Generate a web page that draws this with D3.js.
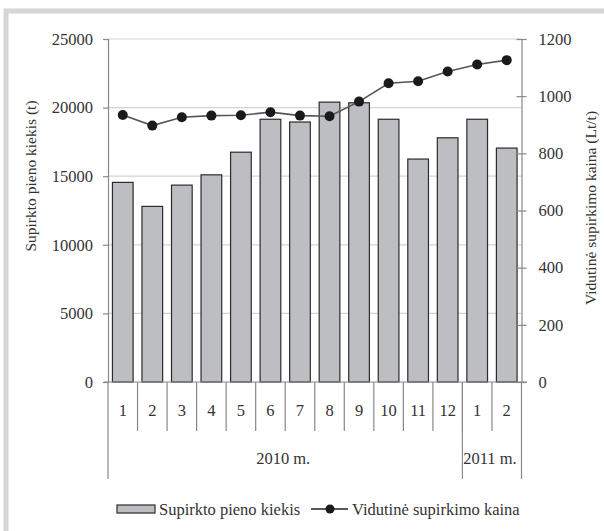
<!DOCTYPE html>
<html>
<head>
<meta charset="utf-8">
<script src="https://cdn.jsdelivr.net/npm/d3@7"></script>
<style>
  html, body { margin: 0; padding: 0; background: #fff; }
  svg { display: block; }
  text { font-family: "Liberation Serif", "Times New Roman", serif; fill: #333; }
</style>
</head>
<body>
<svg id="chart" width="604" height="531"></svg>
<script>
// ---- data ----
const months = ["1","2","3","4","5","6","7","8","9","10","11","12","1","2"];
const quantity = [14550, 12800, 14350, 15100, 16750, 19150, 18950, 20400, 20350, 19150, 16250, 17800, 19150, 17050];
const price = [934, 897, 926, 932, 933, 944, 932, 930, 981, 1045, 1052, 1086, 1111, 1126];
const years = ["2010 m.", "2011 m."];
const yearSpans = [12, 2];
const leftTicks = [0, 5000, 10000, 15000, 20000, 25000];
const rightTicks = [0, 200, 400, 600, 800, 1000, 1200];
const seriesNames = ["Supirkto pieno kiekis", "Vidutinė supirkimo kaina"];
const leftTitle = "Supirkto pieno kiekis (t)";
const rightTitle = "Vidutinė supirkimo kaina (Lt/t)";

// ---- layout ----
const svg = d3.select("#chart");
const X0 = 108, X1 = 521.5, Y0 = 382, Y1 = 39;
const FS = 16.5;
const FONT = "'Liberation Serif', 'Times New Roman', serif";

// frame (partial gray border)
svg.append("rect").attr("x", 6).attr("y", 11).attr("width", 620).attr("height", 540)
  .attr("fill", "none").attr("stroke", "#d6d6d6").attr("stroke-width", 5);

const idx = months.map((d, i) => i);
const x = d3.scaleBand().domain(idx).range([X0, X1]).paddingInner(0.3).paddingOuter(0.15);
const yL = d3.scaleLinear().domain([0, 25000]).range([Y0, Y1]);
const yR = d3.scaleLinear().domain([0, 1200]).range([Y0, Y1]);
const step = x.step();
const boundary = i => x(0) - (step - x.bandwidth()) / 2 + i * step;

// gridlines
svg.append("g").selectAll("line").data(leftTicks.filter(d => d > 0)).join("line")
  .attr("x1", X0).attr("x2", X1)
  .attr("y1", d => yL(d)).attr("y2", d => yL(d))
  .attr("stroke", "#d4d4d4").attr("stroke-width", 1.2);

// bars
svg.append("g").selectAll("rect").data(quantity).join("rect")
  .attr("x", (d, i) => x(i)).attr("width", x.bandwidth())
  .attr("y", d => yL(d)).attr("height", d => Y0 - yL(d))
  .attr("fill", "#bdbec2").attr("stroke", "#2b2b2b").attr("stroke-width", 1.2);

// left axis
const gL = svg.append("g").attr("transform", `translate(${X0},0)`)
  .call(d3.axisLeft(yL).tickValues(leftTicks).tickSize(5).tickPadding(10).tickFormat(d3.format("d")));
gL.select(".domain").attr("stroke", "#888").attr("stroke-width", 1.2);
gL.selectAll(".tick line").attr("stroke", "#888").attr("stroke-width", 1.2);
gL.selectAll("text").style("font-family", FONT).style("font-size", FS + "px").attr("fill", "#333");

// right axis
const gR = svg.append("g").attr("transform", `translate(${X1},0)`)
  .call(d3.axisRight(yR).tickValues(rightTicks).tickSize(5).tickPadding(12).tickFormat(d3.format("d")));
gR.select(".domain").attr("stroke", "#888").attr("stroke-width", 1.2);
gR.selectAll(".tick line").attr("x1", -5).attr("stroke", "#888").attr("stroke-width", 1.2);
gR.selectAll("text").style("font-family", FONT).style("font-size", FS + "px").attr("fill", "#333");

// x baseline
svg.append("line").attr("x1", X0 - 4).attr("x2", X1 + 5).attr("y1", Y0).attr("y2", Y0)
  .attr("stroke", "#888").attr("stroke-width", 1.2);

// month separators
svg.append("g").selectAll("line").data(d3.range(1, months.length)).join("line")
  .attr("x1", d => boundary(d)).attr("x2", d => boundary(d))
  .attr("y1", Y0).attr("y2", 431)
  .attr("stroke", "#888").attr("stroke-width", 1.2);

// month labels
svg.append("g").selectAll("text").data(months).join("text")
  .attr("x", (d, i) => x(i) + x.bandwidth() / 2).attr("y", 416)
  .attr("text-anchor", "middle").style("font-family", FONT).style("font-size", FS + "px").text(d => d);

// year separators and labels
const yStarts = [0];
yearSpans.forEach((s, i) => yStarts.push(yStarts[i] + s));
const yx = d => d === 0 ? X0 : (d === months.length ? X1 : boundary(d));
svg.append("g").selectAll("line").data(yStarts).join("line")
  .attr("x1", yx).attr("x2", yx)
  .attr("y1", Y0).attr("y2", 479)
  .attr("stroke", "#888").attr("stroke-width", 1.2);
svg.append("g").selectAll("text").data(years).join("text")
  .attr("x", (d, i) => (yx(yStarts[i]) + yx(yStarts[i + 1])) / 2 - 2)
  .attr("y", 464).attr("text-anchor", "middle").style("font-family", FONT).style("font-size", FS + "px")
  .text(d => d);

// line series
const line = d3.line().x((d, i) => x(i) + x.bandwidth() / 2).y(d => yR(d));
svg.append("path").datum(price).attr("d", line)
  .attr("fill", "none").attr("stroke", "#555").attr("stroke-width", 1.6);
svg.append("g").selectAll("circle").data(price).join("circle")
  .attr("cx", (d, i) => x(i) + x.bandwidth() / 2).attr("cy", d => yR(d)).attr("r", 5)
  .attr("fill", "#1a1a1a");

// axis titles
svg.append("text").attr("transform", `translate(36,176) rotate(-90)`)
  .attr("text-anchor", "middle").style("font-family", FONT).style("font-size", "15.5px").text(leftTitle);
svg.append("text").attr("transform", `translate(596,208) rotate(-90)`)
  .attr("text-anchor", "middle").style("font-family", FONT).style("font-size", "15.5px").text(rightTitle);

// legend
const lg = svg.append("g");
lg.append("rect").attr("x", 117).attr("y", 505).attr("width", 38).attr("height", 8)
  .attr("fill", "#bdbec2").attr("stroke", "#2b2b2b").attr("stroke-width", 1.2);
lg.append("text").attr("x", 159).attr("y", 515).style("font-family", FONT).style("font-size", FS + "px").text(seriesNames[0]);
lg.append("line").attr("x1", 311).attr("x2", 348).attr("y1", 509).attr("y2", 509)
  .attr("stroke", "#222").attr("stroke-width", 1.6);
lg.append("circle").attr("cx", 330).attr("cy", 509).attr("r", 4.5).attr("fill", "#1a1a1a");
lg.append("text").attr("x", 352).attr("y", 515).style("font-family", FONT).style("font-size", FS + "px").text(seriesNames[1]);
</script>
</body>
</html>
